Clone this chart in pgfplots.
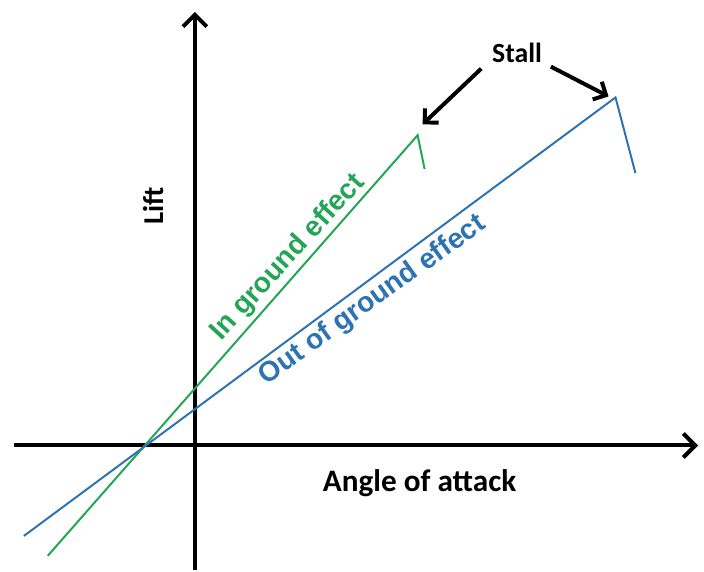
\documentclass[border=0pt]{standalone}
\usepackage{fontspec}
\setmainfont{Carlito}
\newfontfamily\arialfont{Liberation Sans}
\usepackage{pgfplots}
\pgfplotsset{compat=1.18}
\usetikzlibrary{arrows.meta}
\definecolor{ingreen}{RGB}{35,165,85}
\definecolor{outblue}{RGB}{45,115,180}

\begin{document}
\begin{tikzpicture}
\begin{axis}[
  width=704bp, height=571bp,
  scale only axis,
  xmin=-194, xmax=510,
  ymin=-125, ymax=446,
  enlargelimits=false,
  axis lines=middle,
  xtick=\empty, ytick=\empty,
  axis line style={line width=4bp, -{Straight Barb[length=12bp,width=24bp,line width=4bp]}},
  x axis line style={shorten <=12bp, shorten >=4bp},
  y axis line style={shorten >=10bp},
  clip=false,
]
  % in ground effect
  \addplot[ingreen, line width=2bp] coordinates {(-148,-111) (224,312) (231,278)};
  % out of ground effect
  \addplot[outblue, line width=2bp] coordinates {(-172,-91) (423,350) (443,274)};

  \node[anchor=base, font=\bfseries\fontsize{28}{32}\selectfont] at (axis cs:324,385) {Stall};
  \draw[line width=4bp, -{Straight Barb[length=10bp,width=20bp,line width=4bp]}] (axis cs:288,379) -- (axis cs:229,323);
  \draw[line width=4bp, -{Straight Barb[length=10bp,width=20bp,line width=4bp]}] (axis cs:358,381) -- (axis cs:416,351);

  \node[anchor=base, font=\bfseries\fontsize{31.5}{36}\selectfont] at (axis cs:226,-46) {Angle of attack};
  \node[anchor=base, rotate=90, font=\bfseries\fontsize{29}{34}\selectfont] at (axis cs:-32,241) {Lift};

  \node[anchor=base, rotate=47.5, text=ingreen, font=\arialfont\bfseries\fontsize{28.5}{32}\selectfont] at (axis cs:99,184) {In ground effect};
  \node[anchor=base, rotate=35.5, text=outblue, font=\arialfont\bfseries\fontsize{28.5}{32}\selectfont] at (axis cs:183,140) {Out of ground effect};
\end{axis}
\end{tikzpicture}
\end{document}
